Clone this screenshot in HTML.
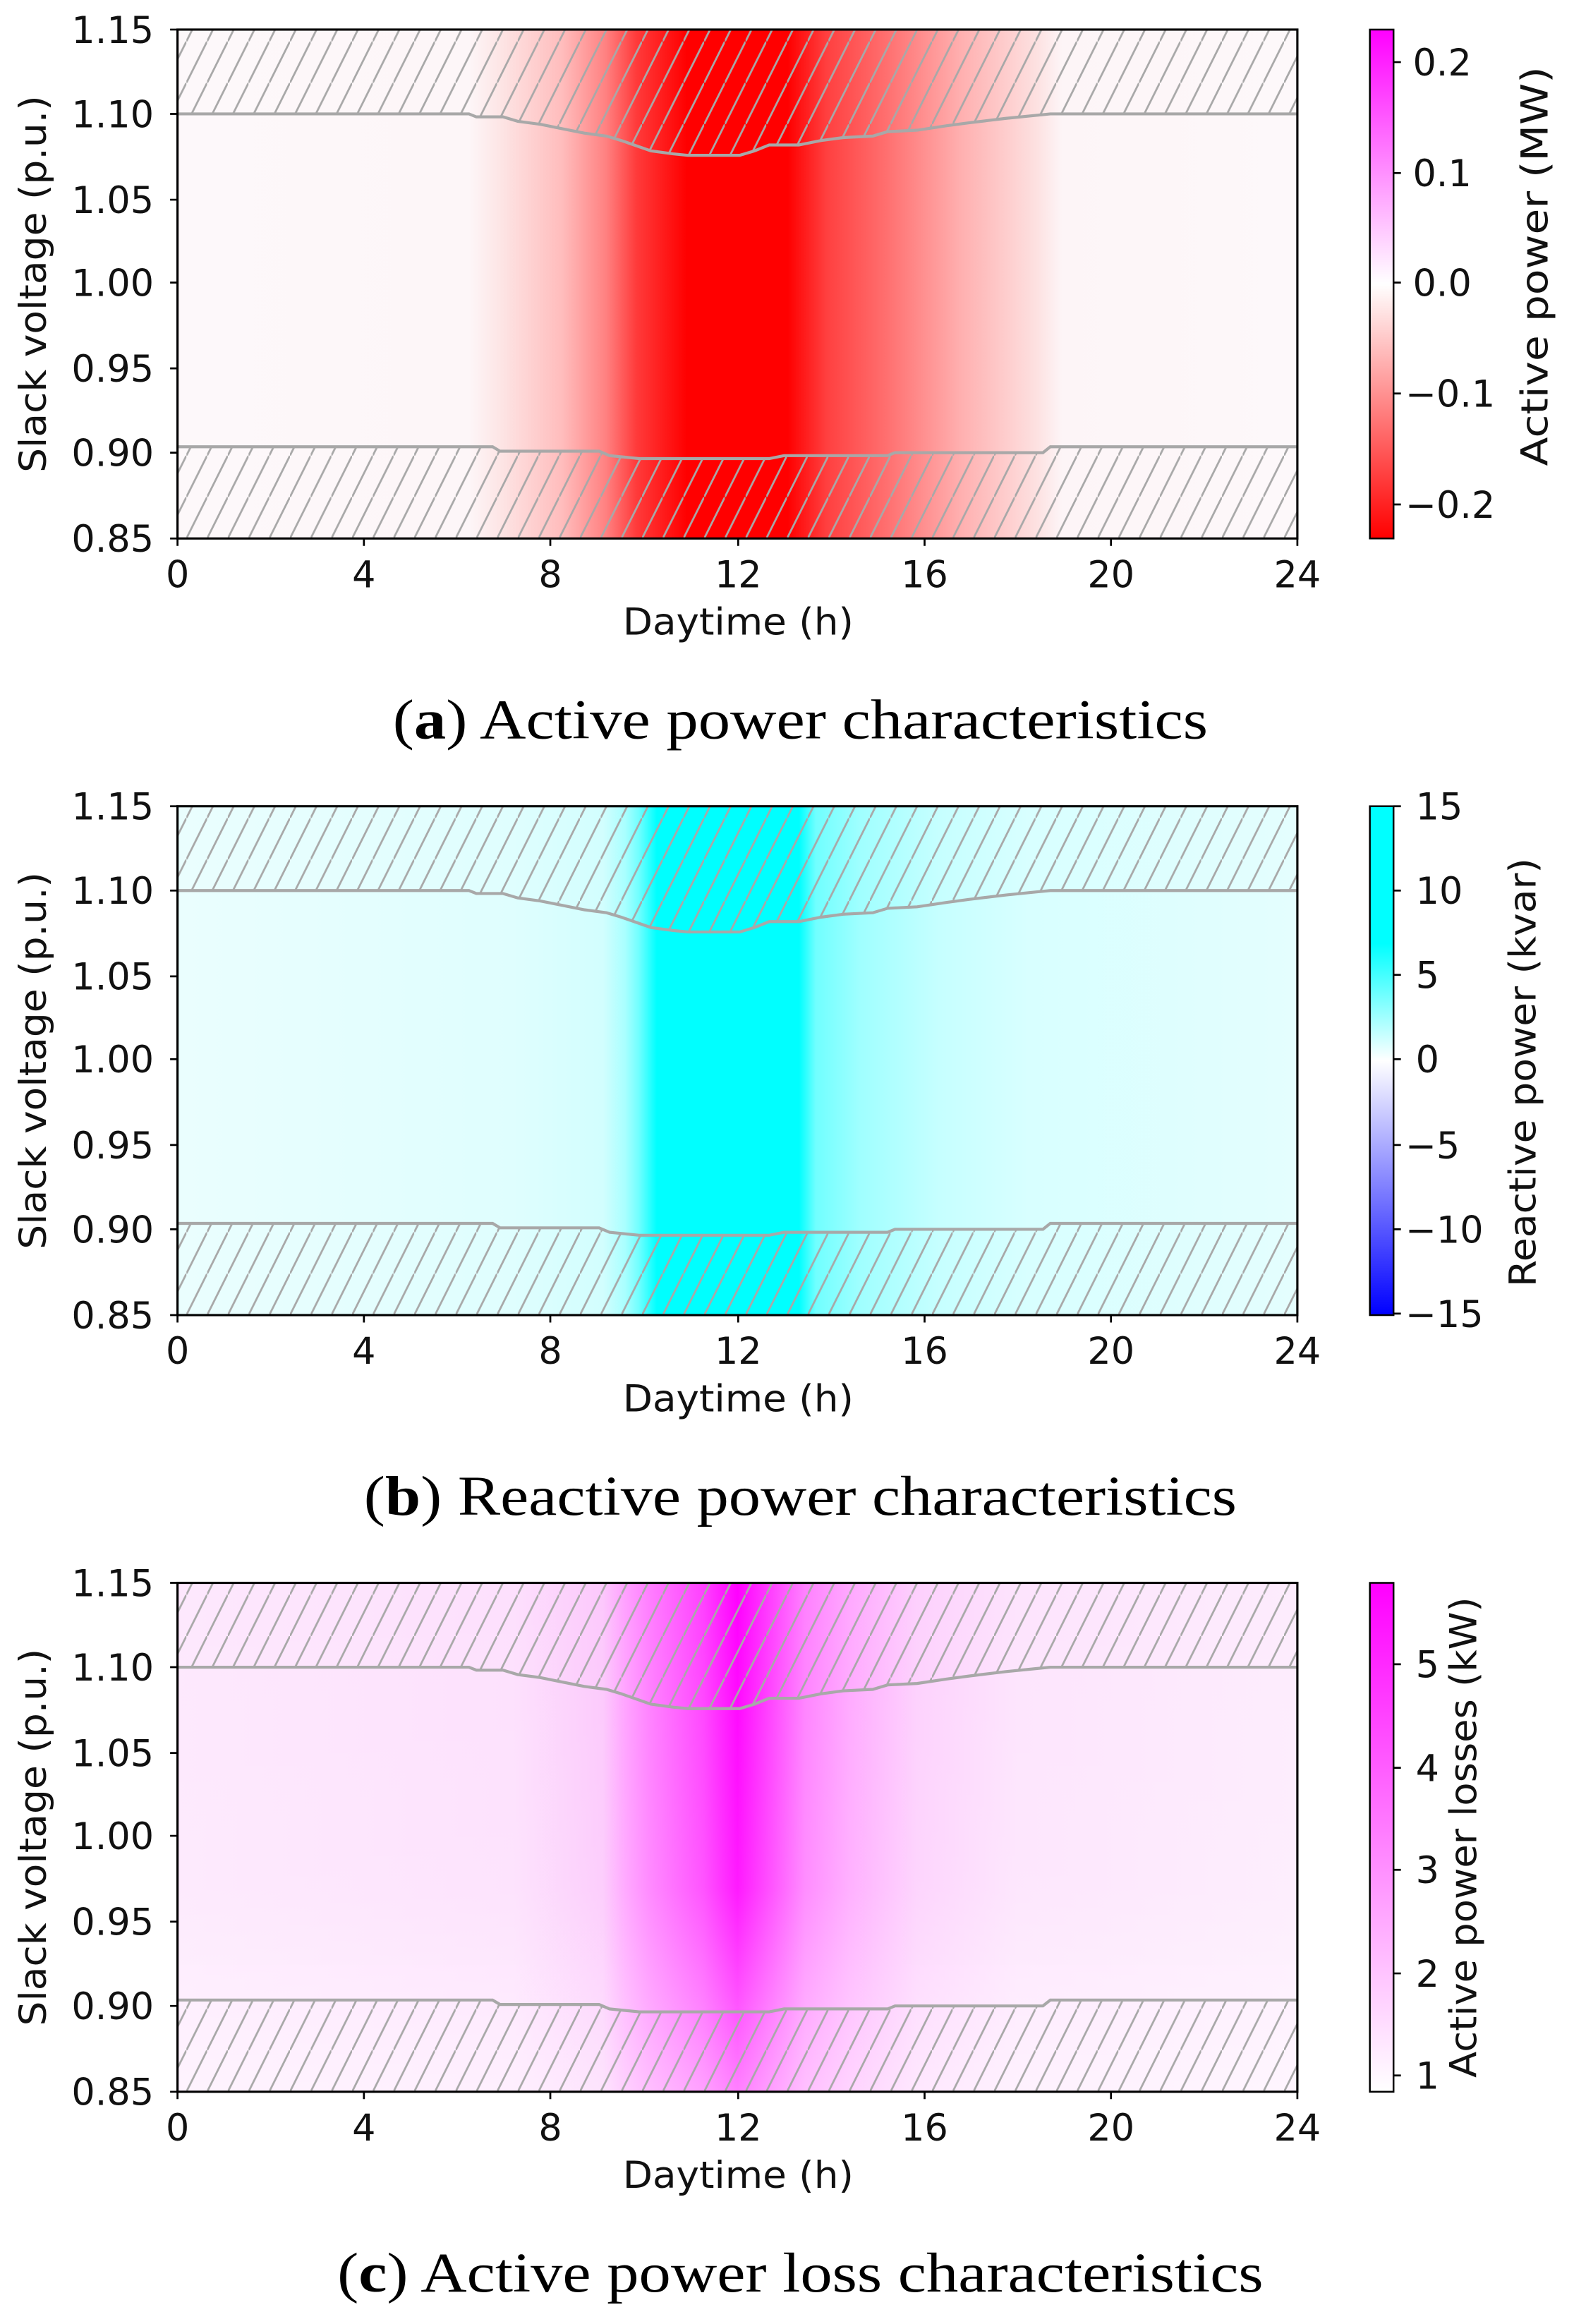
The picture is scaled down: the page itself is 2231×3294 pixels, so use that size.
<!DOCTYPE html>
<html><head><meta charset="utf-8"><style>html,body{margin:0;padding:0;background:#fff}svg{display:block}</style></head><body>
<svg width="2231" height="3294" viewBox="0 0 1064 1571" preserveAspectRatio="none" xmlns="http://www.w3.org/2000/svg" font-family="DejaVu Sans, Liberation Sans, sans-serif">
<defs>
<pattern id="h" patternUnits="userSpaceOnUse" width="14" height="28">
<path d="M0,28 L14,0 M-2,32 L2,24 M12,4 L16,-4" stroke="#a8a8a8" stroke-width="1.3" fill="none"/>
</pattern>
<linearGradient id="ga" x1="120" x2="877" y1="0" y2="0" gradientUnits="userSpaceOnUse">
<stop offset="0" stop-color="#fdf8fa"/><stop offset="0.26" stop-color="#fdf6f8"/>
<stop offset="0.29" stop-color="#fde4e4"/><stop offset="0.344" stop-color="#ffbcbc"/>
<stop offset="0.383" stop-color="#ff8080"/><stop offset="0.41" stop-color="#ff3a3a"/>
<stop offset="0.455" stop-color="#ff0000"/><stop offset="0.545" stop-color="#ff0000"/>
<stop offset="0.58" stop-color="#ff4040"/><stop offset="0.634" stop-color="#ff7070"/>
<stop offset="0.7" stop-color="#ffb0b0"/><stop offset="0.766" stop-color="#fde0e0"/>
<stop offset="0.79" stop-color="#fdf5f7"/><stop offset="1" stop-color="#fdf8fa"/>
</linearGradient>
<linearGradient id="gb" x1="120" x2="877" y1="0" y2="0" gradientUnits="userSpaceOnUse">
<stop offset="0" stop-color="#eafefe"/><stop offset="0.3" stop-color="#dffefe"/>
<stop offset="0.38" stop-color="#d2fefe"/><stop offset="0.4" stop-color="#a8ffff"/>
<stop offset="0.412" stop-color="#70ffff"/><stop offset="0.428" stop-color="#00ffff"/>
<stop offset="0.555" stop-color="#00ffff"/><stop offset="0.57" stop-color="#70ffff"/>
<stop offset="0.61" stop-color="#a0ffff"/><stop offset="0.68" stop-color="#c6ffff"/>
<stop offset="0.76" stop-color="#d8ffff"/><stop offset="1" stop-color="#e4fefe"/>
</linearGradient>
<linearGradient id="gc" x1="120" x2="877" y1="0" y2="0" gradientUnits="userSpaceOnUse">
<stop offset="0" stop-color="#fde8fd"/><stop offset="0.3" stop-color="#fde0fd"/>
<stop offset="0.38" stop-color="#fcc8fc"/><stop offset="0.4" stop-color="#ffa0ff"/>
<stop offset="0.42" stop-color="#ff80ff"/><stop offset="0.47" stop-color="#ff40ff"/>
<stop offset="0.5" stop-color="#ff00ff"/><stop offset="0.53" stop-color="#ff40ff"/>
<stop offset="0.56" stop-color="#ff80ff"/><stop offset="0.6" stop-color="#ffa8ff"/>
<stop offset="0.66" stop-color="#fdd0fd"/><stop offset="0.75" stop-color="#fde4fd"/>
<stop offset="1" stop-color="#fdecfd"/>
</linearGradient>
<linearGradient id="gcv" x1="0" x2="0" y1="20" y2="364" gradientUnits="userSpaceOnUse">
<stop offset="0" stop-color="#fff" stop-opacity="0"/><stop offset="0.6" stop-color="#fff" stop-opacity="0.1"/>
<stop offset="1" stop-color="#fff" stop-opacity="0.5"/>
</linearGradient>
<linearGradient id="cba" x1="0" x2="0" y1="20" y2="364" gradientUnits="userSpaceOnUse">
<stop offset="0" stop-color="#ff00ff"/><stop offset="0.5" stop-color="#ffffff"/><stop offset="1" stop-color="#ff0000"/>
</linearGradient>
<linearGradient id="cbb" x1="0" x2="0" y1="20" y2="364" gradientUnits="userSpaceOnUse">
<stop offset="0" stop-color="#00ffff"/><stop offset="0.27" stop-color="#00ffff"/><stop offset="0.5" stop-color="#ffffff"/><stop offset="1" stop-color="#0000ff"/>
</linearGradient>
<linearGradient id="cbc" x1="0" x2="0" y1="20" y2="364" gradientUnits="userSpaceOnUse">
<stop offset="0" stop-color="#ff00ff"/><stop offset="1" stop-color="#ffffff"/>
</linearGradient>
<path id="up" d="M120,20 L120,77 L317,77 L322,79 L340,79 L350,82 L365,84 L380,87 L395,90 L410,92 L420,95 L440,102 L455,104 L465,105 L500,105 L510,102 L520,98 L540,98 L555,95 L570,93 L590,92 L600,89 L620,88 L640,85 L655,83 L680,80 L700,78 L710,77 L877,77 L877,20 Z"/>
<path id="lo" d="M120,364 L120,302 L333,302 L338,305 L405,305 L412,308 L432,310 L520,310 L530,308 L600,308 L605,306 L705,306 L710,302 L877,302 L877,364 Z"/>
<g id="ax">
<use href="#up" fill="url(#h)"/><use href="#lo" fill="url(#h)"/>
<path d="M120,77 L317,77 L322,79 L340,79 L350,82 L365,84 L380,87 L395,90 L410,92 L420,95 L440,102 L455,104 L465,105 L500,105 L510,102 L520,98 L540,98 L555,95 L570,93 L590,92 L600,89 L620,88 L640,85 L655,83 L680,80 L700,78 L710,77 L877,77 M120,302 L333,302 L338,305 L405,305 L412,308 L432,310 L520,310 L530,308 L600,308 L605,306 L705,306 L710,302 L877,302" stroke="#a8a8a8" stroke-width="2" fill="none"/>
<rect x="120" y="20" width="757" height="344" fill="none" stroke="#000" stroke-width="1.5"/>
<g stroke="#000" stroke-width="1.3">
<path d="M120,20h-5M120,77h-5M120,135h-5M120,191h-5M120,249h-5M120,306h-5M120,364h-5"/>
<path d="M120,364v5M246,364v5M372,364v5M499,364v5M625,364v5M751,364v5M877,364v5"/>
</g>
<g font-size="25" fill="#111" text-anchor="end">
<text x="104" y="29">1.15</text><text x="104" y="86">1.10</text><text x="104" y="144">1.05</text>
<text x="104" y="200">1.00</text><text x="104" y="258">0.95</text><text x="104" y="315">0.90</text><text x="104" y="373">0.85</text>
</g>
<g font-size="25" fill="#111" text-anchor="middle">
<text x="120" y="397">0</text><text x="246" y="397">4</text><text x="372" y="397">8</text><text x="499" y="397">12</text>
<text x="625" y="397">16</text><text x="751" y="397">20</text><text x="877" y="397">24</text>
<text x="499" y="429" textLength="156" lengthAdjust="spacingAndGlyphs">Daytime (h)</text>
<text transform="translate(31,192) rotate(-90)" textLength="255" lengthAdjust="spacingAndGlyphs">Slack voltage (p.u.)</text>
</g>
</g>
</defs>

<!-- Panel a -->
<rect x="120" y="20" width="757" height="344" fill="url(#ga)"/>
<use href="#ax"/>
<rect x="926" y="20" width="16" height="344" fill="url(#cba)" stroke="#000" stroke-width="1.2"/>
<g stroke="#000" stroke-width="1.3"><path d="M942,42h5M942,117h5M942,191h5M942,266h5M942,341h5"/></g>
<g font-size="25" fill="#111"><text x="955" y="51">0.2</text><text x="955" y="126">0.1</text><text x="955" y="200">0.0</text><text x="950" y="275">−0.1</text><text x="950" y="350">−0.2</text>
<text transform="translate(1046,180) rotate(-90)" text-anchor="middle" textLength="270" lengthAdjust="spacingAndGlyphs">Active power (MW)</text></g>
<text x="541" y="499" font-family="Liberation Serif, serif" font-size="38" text-anchor="middle" fill="#000" textLength="551" lengthAdjust="spacingAndGlyphs">(<tspan font-weight="bold">a</tspan>) Active power characteristics</text>

<!-- Panel b -->
<g transform="translate(0,525)">
<rect x="120" y="20" width="757" height="344" fill="url(#gb)"/>
<use href="#ax"/>
<rect x="926" y="20" width="16" height="344" fill="url(#cbb)" stroke="#000" stroke-width="1.2"/>
<g stroke="#000" stroke-width="1.3"><path d="M942,20h5M942,77h5M942,134h5M942,191h5M942,249h5M942,306h5M942,363h5"/></g>
<g font-size="25" fill="#111"><text x="957" y="29">15</text><text x="957" y="86">10</text><text x="957" y="143">5</text><text x="957" y="200">0</text><text x="950" y="258">−5</text><text x="950" y="315">−10</text><text x="950" y="372">−15</text>
<text transform="translate(1038,200) rotate(-90)" text-anchor="middle" textLength="290" lengthAdjust="spacingAndGlyphs">Reactive power (kvar)</text></g>
<text x="541" y="499" font-family="Liberation Serif, serif" font-size="38" text-anchor="middle" fill="#000" textLength="590" lengthAdjust="spacingAndGlyphs">(<tspan font-weight="bold">b</tspan>) Reactive power characteristics</text>
</g>

<!-- Panel c -->
<g transform="translate(0,1050)">
<rect x="120" y="20" width="757" height="344" fill="url(#gc)"/>
<rect x="120" y="20" width="757" height="344" fill="url(#gcv)"/>
<use href="#ax"/>
<rect x="926" y="20" width="16" height="344" fill="url(#cbc)" stroke="#000" stroke-width="1.2"/>
<g stroke="#000" stroke-width="1.3"><path d="M942,75h5M942,145h5M942,214h5M942,284h5M942,353h5"/></g>
<g font-size="25" fill="#111"><text x="957" y="84">5</text><text x="957" y="154">4</text><text x="957" y="223">3</text><text x="957" y="293">2</text><text x="957" y="362">1</text>
<text transform="translate(998,192) rotate(-90)" text-anchor="middle" textLength="325" lengthAdjust="spacingAndGlyphs">Active power losses (kW)</text></g>
<text x="541" y="499" font-family="Liberation Serif, serif" font-size="38" text-anchor="middle" fill="#000" textLength="626" lengthAdjust="spacingAndGlyphs">(<tspan font-weight="bold">c</tspan>) Active power loss characteristics</text>
</g>
</svg>
</body></html>
